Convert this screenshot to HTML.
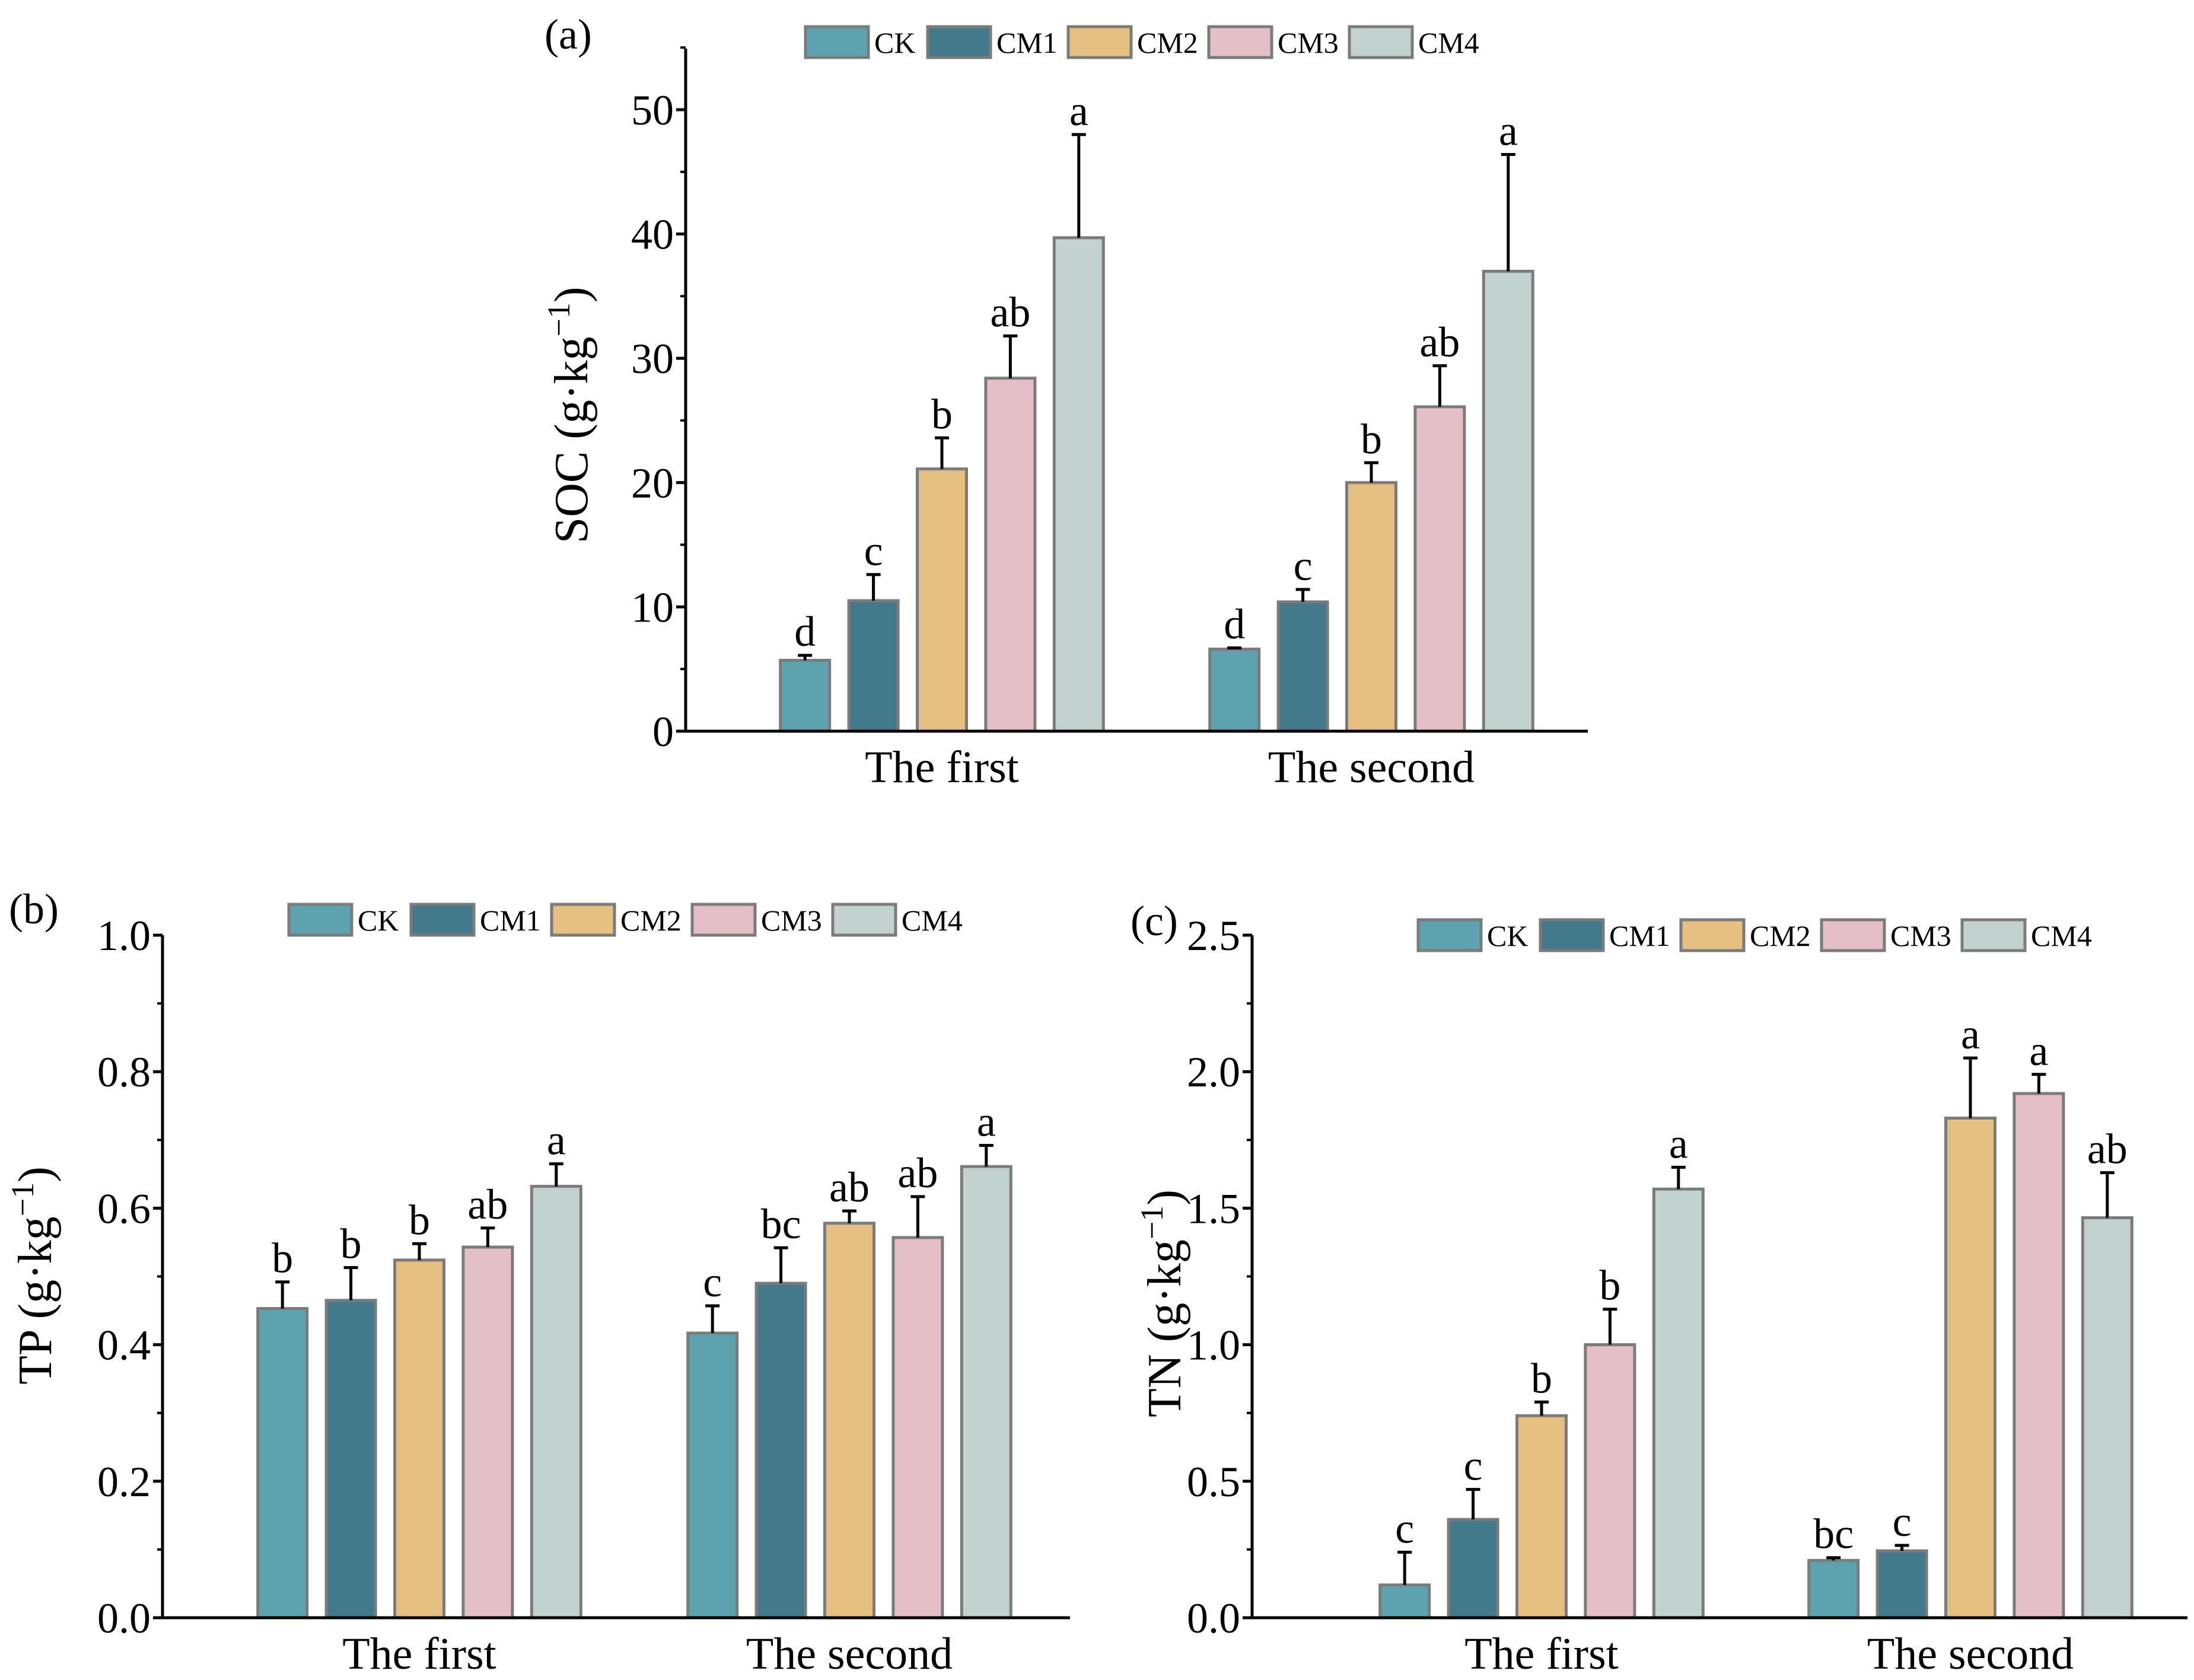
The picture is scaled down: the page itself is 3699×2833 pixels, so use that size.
<!DOCTYPE html>
<html><head><meta charset="utf-8"><style>
html,body{margin:0;padding:0;background:#fff}
svg{display:block;font-family:"Liberation Serif",serif}
</style></head><body>
<svg id="chart" width="3699" height="2833" viewBox="0 0 3699 2833" xmlns="http://www.w3.org/2000/svg"></svg>
<script>
const series = ["CK","CM1","CM2","CM3","CM4"];
const colors = ["#5da2af","#437a8b","#e4bf80","#e4bfc7","#c1d2ce"];
const groups = ["The first","The second"];
// Panel a: SOC
const socFirst = [5.7,10.5,21.1,28.4,39.7];
const socFirstErr = [6.1,12.6,23.6,31.8,48.0];
const socSecond = [6.6,10.4,20.0,26.1,37.0];
const socSecondErr = [6.7,11.4,21.6,29.4,46.4];
const socLetters1 = ["d","c","b","ab","a"];
const socLetters2 = ["d","c","b","ab","a"];
const socTicks = [0,10,20,30,40,50];
// Panel b: TP
const tpFirst = [0.453,0.465,0.524,0.543,0.632];
const tpFirstErr = [0.492,0.513,0.548,0.571,0.665];
const tpSecond = [0.417,0.490,0.578,0.557,0.661];
const tpSecondErr = [0.457,0.542,0.596,0.617,0.692];
const tpLetters1 = ["b","b","b","ab","a"];
const tpLetters2 = ["c","bc","ab","ab","a"];
const tpTicks = ["0.0","0.2","0.4","0.6","0.8","1.0"];
// Panel c: TN
const tnFirst = [0.12,0.36,0.74,1.0,1.57];
const tnFirstErr = [0.24,0.47,0.79,1.13,1.65];
const tnSecond = [0.21,0.245,1.83,1.92,1.465];
const tnSecondErr = [0.22,0.265,2.05,1.99,1.63];
const tnLetters1 = ["c","c","b","b","a"];
const tnLetters2 = ["bc","c","a","a","ab"];
const tnTicks = ["0.0","0.5","1.0","1.5","2.0","2.5"];

const NS="http://www.w3.org/2000/svg";
const svg=document.getElementById('chart');
function mk(tag,attrs,parent,text){const e=document.createElementNS(NS,tag);for(const k in attrs)e.setAttribute(k,attrs[k]);if(text!==undefined)e.textContent=text;(parent||svg).appendChild(e);return e;}

function panel(p){
  const g=mk('g',{});
  
  
  const ymax=parseFloat(p.ticks[p.ticks.length-1]);
  const y=v=>p.y0-(v/ymax)*(p.y0-p.yTop);
  const data=[[p.v1,p.e1,p.l1],[p.v2,p.e2,p.l2]];
  data.forEach((d,gi)=>{
    d[0].forEach((v,i)=>{
      const cx=p.gc[gi]+(i-2)*p.pitch;
      const r=mk('rect',{x:cx-p.bw/2,y:y(v),width:p.bw,height:p.y0-y(v),fill:colors[i],stroke:'#7b7b7b','stroke-width':5},g);
      
      
      const et=y(d[1][i]);
      const eb=mk('path',{d:`M${cx} ${y(v)}V${et}M${cx-12} ${et}H${cx+12}`,stroke:'#000','stroke-width':5,fill:'none'},g);
      
      
      const t=mk('text',{x:cx,y:et-16,'text-anchor':'middle','font-size':72},g,d[2][i]);
      
      
    });
    const cl=mk('text',{x:p.gc[gi],y:p.y0+86,'text-anchor':'middle','font-size':76},g,groups[gi]);
    
    
  });
  const ax=mk('path',{d:`M${p.x0} ${p.axTop}V${p.y0}H${p.xEnd}`,stroke:'#000','stroke-width':5,fill:'none'},g);
  
  
  p.ticks.forEach((tk,i)=>{
    const v=parseFloat(tk);const ty=y(v);
    mk('line',{x1:p.x0-16,x2:p.x0,y1:ty,y2:ty,stroke:'#000','stroke-width':5},g);
    if(i<p.ticks.length-1){const mv=(v+parseFloat(p.ticks[i+1]))/2;mk('line',{x1:p.x0-9,x2:p.x0,y1:y(mv),y2:y(mv),stroke:'#000','stroke-width':4},g);}
    const t=mk('text',{x:p.x0-20,y:ty+25,'text-anchor':'end','font-size':72},g,tk);
    
    
  });
  if(p.extraMinor){const mv=ymax+parseFloat(p.ticks[1])/2;mk('line',{x1:p.x0-9,x2:p.x0,y1:y(mv),y2:y(mv),stroke:'#000','stroke-width':4},g);}
  const yt=mk('text',{transform:`translate(${p.tx},${p.ty}) rotate(-90)`,'text-anchor':'middle','font-size':80},g);
  
  
  yt.innerHTML=p.title+' (g·kg<tspan dy="-30" font-size="54">−1</tspan><tspan dy="30">)</tspan>';
  const pl=mk('text',{x:p.lx,y:p.ly,'font-size':72},g,p.label);
  
  
  const lg=mk('g',{},g);
  
  
  series.forEach((s,i)=>{
    const bx=p.legX+p.legOff[i];
    const e=mk('g',{},lg);
    
    
    mk('rect',{x:bx,y:p.legY,width:106,height:52,fill:colors[i],stroke:'#7b7b7b','stroke-width':5},e);
    mk('text',{x:bx+116,y:p.legY+44,'font-size':50},e,s);
  });
}
const legOff=[0,206,443,680,917];
panel({name:'panel-a-soc',label:'(a)',lx:918,ly:82,title:'SOC',v1:socFirst,e1:socFirstErr,v2:socSecond,e2:socSecondErr,l1:socLetters1,l2:socLetters2,ticks:socTicks.map(String),
  x0:1156,xEnd:2677,y0:1233,yTop:185,axTop:82,gc:[1588,2312],pitch:115.4,bw:83,tx:990,ty:700,legX:1358,legY:45,legOff,extraMinor:true});
panel({name:'panel-b-tp',label:'(b)',lx:15,ly:1557,title:'TP',v1:tpFirst,e1:tpFirstErr,v2:tpSecond,e2:tpSecondErr,l1:tpLetters1,l2:tpLetters2,ticks:tpTicks,
  x0:274,xEnd:1804,y0:2728,yTop:1577,axTop:1577,gc:[707,1432],pitch:115.4,bw:83,tx:86,ty:2151,legX:487,legY:1525,legOff});
panel({name:'panel-c-tn',label:'(c)',lx:1906,ly:1577,title:'TN',v1:tnFirst,e1:tnFirstErr,v2:tnSecond,e2:tnSecondErr,l1:tnLetters1,l2:tnLetters2,ticks:tnTicks,
  x0:2111,xEnd:3688,y0:2728,yTop:1577,axTop:1577,gc:[2599,3322],pitch:115.4,bw:83,tx:1990,ty:2198,legX:2391,legY:1551,legOff});
</script>
</body></html>
